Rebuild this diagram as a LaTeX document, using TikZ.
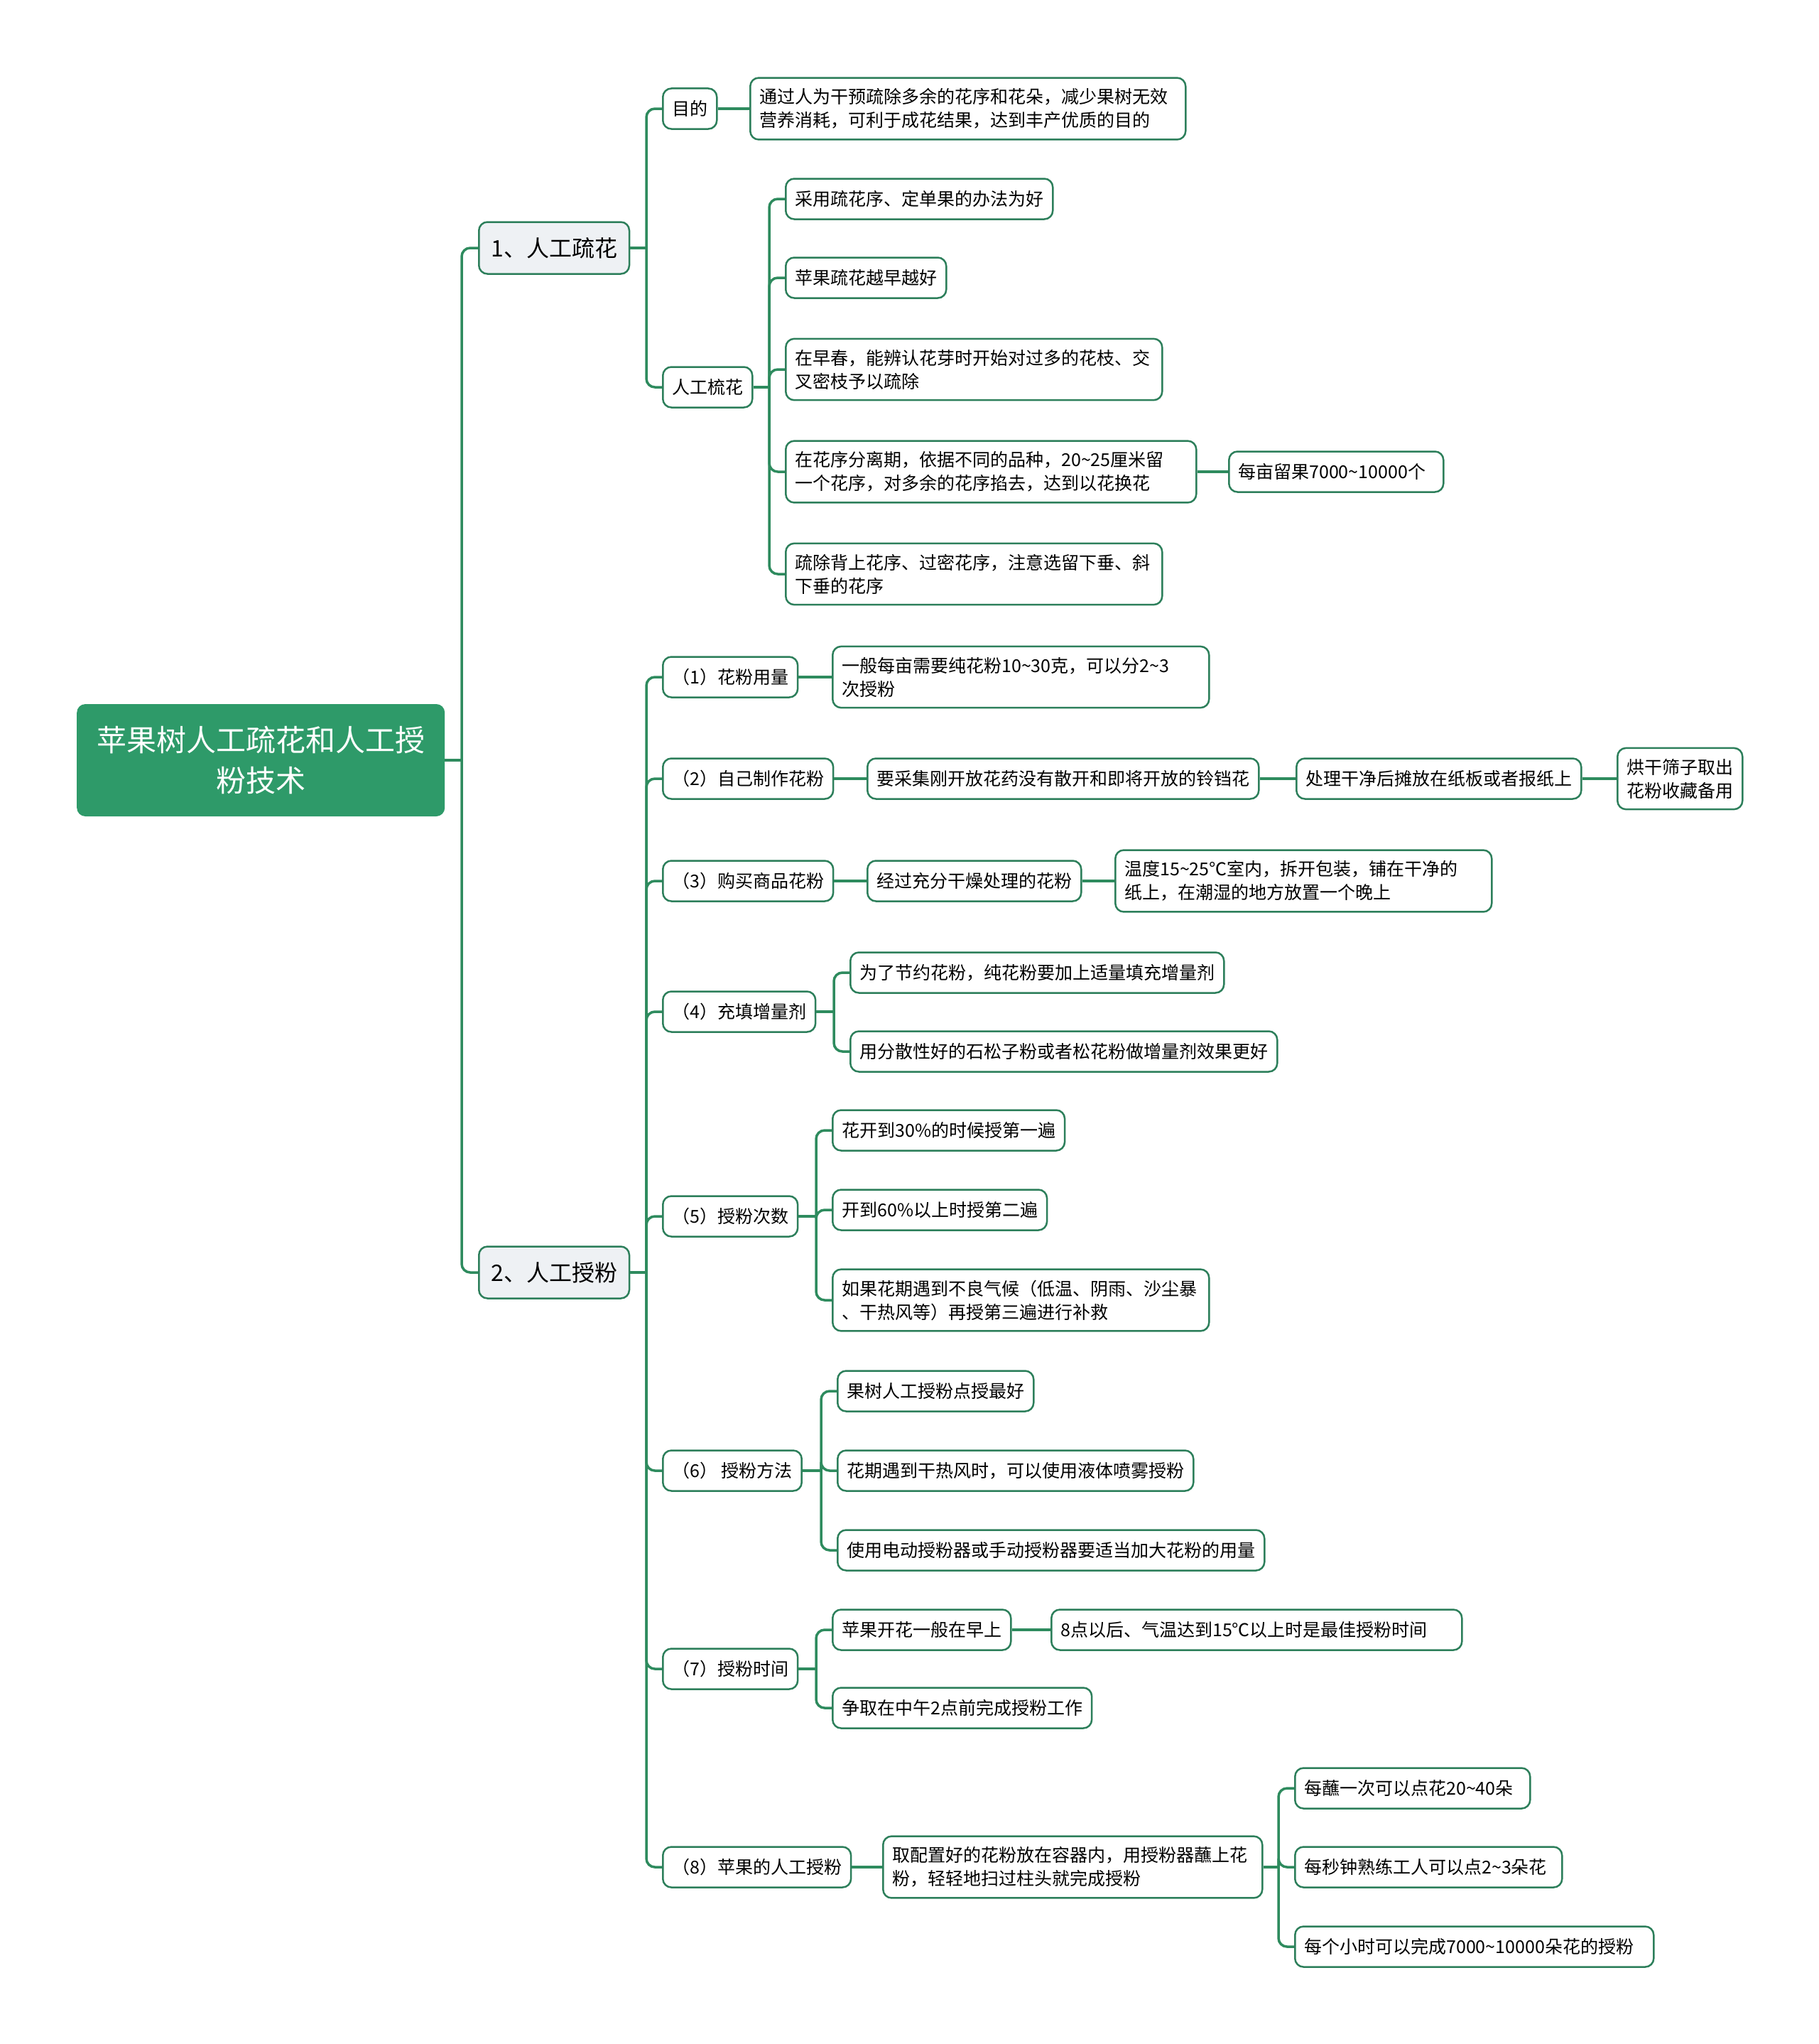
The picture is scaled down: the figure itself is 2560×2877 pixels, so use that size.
\documentclass[tikz,border=0pt]{standalone}
\usepackage{fontspec}
\setmainfont{Noto Sans CJK SC}

\definecolor{rootgreen}{HTML}{2E9A69}
\definecolor{linegreen}{HTML}{2E8B5E}
\definecolor{boxgreen}{HTML}{2D7F5B}
\definecolor{topicgray}{HTML}{EEF1F4}
\newcommand\rng{\textasciitilde}

\begin{document}
\begin{tikzpicture}[
		x=1pt, y=-1pt,
		conn/.style={
			draw=linegreen,
			line width=3.5pt,
			rounded corners=12pt,
		},
		leafbox/.style={
			shape=rectangle,
			draw=boxgreen,
			line width=2.5pt,
			fill=white,
			rounded corners=12pt,
			anchor=west,
			align=left,
			inner xsep=13pt,
			inner ysep=15pt,
			minimum height=57pt,
			font=\fontsize{25}{33}\selectfont,
		},
		widebox/.style={
			leafbox,
			text width=504pt,
		},
		topicbox/.style={
			leafbox,
			fill=topicgray,
			inner xsep=17pt,
			minimum height=73pt,
			font=\fontsize{32}{40}\selectfont,
		},
		rootbox/.style={
			shape=rectangle,
			fill=rootgreen,
			text=white,
			rounded corners=12pt,
			anchor=west,
			align=center,
			minimum width=518pt,
			minimum height=158pt,
			font=\fontsize{42}{57}\selectfont,
		},
	]
		\fill[white] (0,0) rectangle (2560,2877);
		\useasboundingbox (0,0) rectangle (2560,2877);

		% root and the two main topics
		\node[rootbox] (root) at (108,1070) {苹果树人工疏花和人工授\\粉技术};
		\node[topicbox] (thin) at (673,349) {1、人工疏花};
		\node[topicbox] (pollin) at (673,1791) {2、人工授粉};

		% 1. thinning
		\node[leafbox] (aim) at (932,153) {目的};
		\node[leafbox, text width=587pt] (aimtext) at (1055,153) {通过人为干预疏除多余的花序和花朵，减少果树无效\\营养消耗，可利于成花结果，达到丰产优质的目的};
		\node[leafbox] (comb) at (932,545) {人工梳花};
		\node[leafbox] (comba) at (1105,280) {采用疏花序、定单果的办法为好};
		\node[leafbox] (combb) at (1105,391) {苹果疏花越早越好};
		\node[widebox] (combc) at (1105,520) {在早春，能辨认花芽时开始对过多的花枝、交\\叉密枝予以疏除};
		\node[leafbox, text width=552pt] (combd) at (1105,664) {在花序分离期，依据不同的品种，20\rng25厘米留\\一个花序，对多余的花序掐去，达到以花换花};
		\node[leafbox, text width=276pt] (combdx) at (1729,664) {每亩留果7000\rng10000个};
		\node[widebox] (combe) at (1105,808) {疏除背上花序、过密花序，注意选留下垂、斜\\下垂的花序};

		% 2. pollination
		\node[leafbox] (amount) at (932,953) {（1）花粉用量};
		\node[widebox] (amounttext) at (1171,953) {一般每亩需要纯花粉10\rng30克，可以分2\rng3\\次授粉};
		\node[leafbox] (selfmade) at (932,1096) {（2）自己制作花粉};
		\node[leafbox] (selfa) at (1220,1096) {要采集刚开放花药没有散开和即将开放的铃铛花};
		\node[leafbox] (selfb) at (1824,1096) {处理干净后摊放在纸板或者报纸上};
		\node[leafbox] (selfc) at (2276,1096) {烘干筛子取出\\花粉收藏备用};
		\node[leafbox] (bought) at (932,1240) {（3）购买商品花粉};
		\node[leafbox] (boughta) at (1220,1240) {经过充分干燥处理的花粉};
		\node[widebox] (boughtb) at (1569,1240) {温度15\rng25℃室内，拆开包装，铺在干净的\\纸上，在潮湿的地方放置一个晚上};
		\node[leafbox] (filler) at (932,1424) {（4）充填增量剂};
		\node[leafbox] (fillera) at (1196,1369) {为了节约花粉，纯花粉要加上适量填充增量剂};
		\node[leafbox] (fillerb) at (1196,1480) {用分散性好的石松子粉或者松花粉做增量剂效果更好};
		\node[leafbox] (times) at (932,1712) {（5）授粉次数};
		\node[leafbox] (timesa) at (1171,1591) {花开到30\%的时候授第一遍};
		\node[leafbox] (timesb) at (1171,1703) {开到60\%以上时授第二遍};
		\node[widebox] (timesc) at (1171,1830) {如果花期遇到不良气候（低温、阴雨、沙尘暴\\、干热风等）再授第三遍进行补救};
		\node[leafbox] (method) at (932,2070) {（6） 授粉方法};
		\node[leafbox] (methoda) at (1178,1958) {果树人工授粉点授最好};
		\node[leafbox] (methodb) at (1178,2070) {花期遇到干热风时，可以使用液体喷雾授粉};
		\node[leafbox] (methodc) at (1178,2182) {使用电动授粉器或手动授粉器要适当加大花粉的用量};
		\node[leafbox] (hour) at (932,2349) {（7）授粉时间};
		\node[leafbox] (houra) at (1171,2294) {苹果开花一般在早上};
		\node[leafbox, text width=552pt] (hourax) at (1479,2294) {8点以后、气温达到15℃以上时是最佳授粉时间};
		\node[leafbox] (hourb) at (1171,2404) {争取在中午2点前完成授粉工作};
		\node[leafbox] (dab) at (932,2628) {（8）苹果的人工授粉};
		\node[leafbox, text width=508pt] (dabtext) at (1242,2628) {取配置好的花粉放在容器内，用授粉器蘸上花\\粉，轻轻地扫过柱头就完成授粉};
		\node[leafbox, text width=305pt] (daba) at (1822,2517) {每蘸一次可以点花20\rng40朵};
		\node[leafbox, text width=350pt] (dabb) at (1822,2628) {每秒钟熟练工人可以点2\rng3朵花};
		\node[leafbox, text width=479pt] (dabc) at (1822,2740) {每个小时可以完成7000\rng10000朵花的授粉};

		% bus points
		\coordinate (trunk) at (650,1070);
		\coordinate (thinbus) at (910,349);
		\coordinate (combbus) at (1083,545);
		\coordinate (pollinbus) at (910,1791);
		\coordinate (fillerbus) at (1174,1424);
		\coordinate (timesbus) at (1149,1712);
		\coordinate (methodbus) at (1156,2070);
		\coordinate (hourbus) at (1149,2349);
		\coordinate (dabbus) at (1800,2628);

		% connectors
		\draw[conn] (root.east) -- (trunk);
		\foreach \kid in {thin,pollin}
			\draw[conn] (trunk) |- (\kid.west);
		\draw[conn] (thin.east) -- (thinbus);
		\foreach \kid in {aim,comb}
			\draw[conn] (thinbus) |- (\kid.west);
		\draw[conn] (aim.east) -- (aimtext.west);
		\draw[conn] (comb.east) -- (combbus);
		\foreach \kid in {comba,combb,combc,combd,combe}
			\draw[conn] (combbus) |- (\kid.west);
		\draw[conn] (combd.east) -- (combdx.west);

		\draw[conn] (pollin.east) -- (pollinbus);
		\foreach \kid in {amount,selfmade,bought,filler,times,method,hour,dab}
			\draw[conn] (pollinbus) |- (\kid.west);
		\draw[conn] (amount.east) -- (amounttext.west);
		\draw[conn] (selfmade.east) -- (selfa.west);
		\draw[conn] (selfa.east) -- (selfb.west);
		\draw[conn] (selfb.east) -- (selfc.west);
		\draw[conn] (bought.east) -- (boughta.west);
		\draw[conn] (boughta.east) -- (boughtb.west);
		\draw[conn] (filler.east) -- (fillerbus);
		\foreach \kid in {fillera,fillerb}
			\draw[conn] (fillerbus) |- (\kid.west);
		\draw[conn] (times.east) -- (timesbus);
		\foreach \kid in {timesa,timesb,timesc}
			\draw[conn] (timesbus) |- (\kid.west);
		\draw[conn] (method.east) -- (methodbus);
		\foreach \kid in {methoda,methodb,methodc}
			\draw[conn] (methodbus) |- (\kid.west);
		\draw[conn] (hour.east) -- (hourbus);
		\foreach \kid in {houra,hourb}
			\draw[conn] (hourbus) |- (\kid.west);
		\draw[conn] (houra.east) -- (hourax.west);
		\draw[conn] (dab.east) -- (dabtext.west);
		\draw[conn] (dabtext.east) -- (dabbus);
		\foreach \kid in {daba,dabb,dabc}
			\draw[conn] (dabbus) |- (\kid.west);
	\end{tikzpicture}
\end{document}
